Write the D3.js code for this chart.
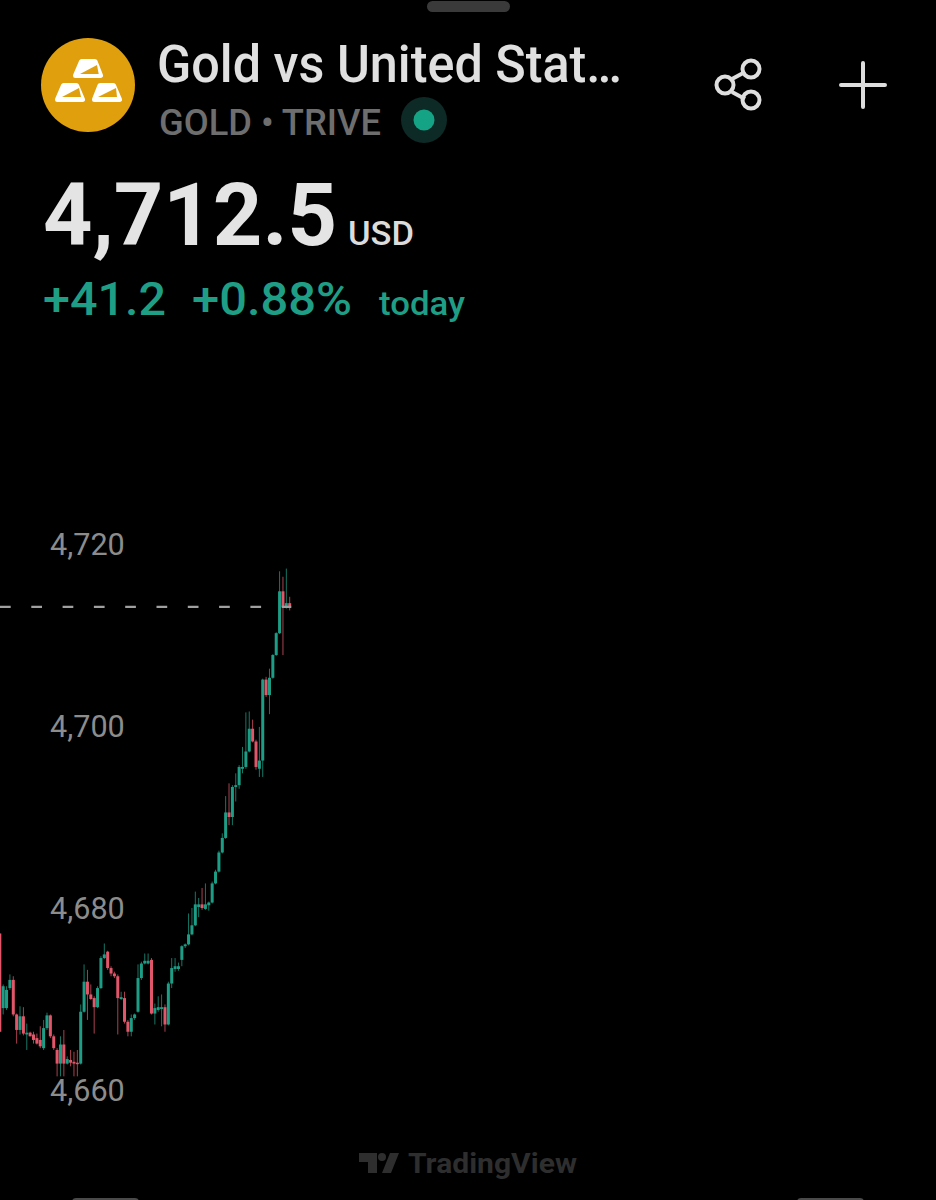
<!DOCTYPE html>
<html>
<head>
<meta charset="utf-8">
<title>Gold vs United States Dollar</title>
<script src="https://cdnjs.cloudflare.com/ajax/libs/d3/7.8.5/d3.min.js"></script>
<style>
    html, body { margin: 0; padding: 0; background: #000; }
    svg { display: block; font-family: Roboto, sans-serif; }
</style>
</head>
<body>
<div id="chart"></div>
<script>
// Chart values
// ==================================
var opens = [4677.2,4669.0,4669.0,4671.2,4672.1,4668.3,4666.6,4668.1,4666.1,4666.3,4666.1,4665.7,4665.5,4664.6,4666.8,4668.2,4665.9,4664.4,4662.9,4665.0,4662.9,4663.3,4663.1,4663.0,4662.9,4668.6,4671.9,4670.5,4670.1,4669.1,4671.2,4674.5,4675.2,4673.4,4672.8,4672.5,4670.0,4670.1,4667.5,4666.4,4667.9,4668.6,4672.3,4673.9,4673.9,4674.3,4668.4,4668.8,4668.9,4669.1,4667.2,4671.7,4673.3,4673.3,4674.3,4675.8,4676.0,4677.1,4678.1,4680.1,4680.4,4679.9,4680.3,4680.6,4682.7,4684.0,4686.1,4687.7,4690.5,4690.0,4693.3,4693.5,4695.3,4695.5,4697.2,4699.7,4698.3,4695.3,4696.2,4705.1,4703.4,4705.3,4707.8,4710.2,4714.8,4713.1,4713.5];
var highs = [4677.2,4671.6,4671.4,4672.7,4672.5,4668.4,4669.2,4669.1,4667.3,4666.4,4666.4,4666.2,4667.0,4667.7,4668.5,4668.3,4666.1,4664.6,4665.9,4666.6,4663.7,4664.4,4664.2,4664.4,4669.4,4673.8,4673.2,4671.6,4670.3,4671.4,4674.7,4676.1,4675.3,4673.6,4673.0,4672.7,4670.8,4670.8,4667.7,4668.3,4668.4,4673.8,4674.1,4675.0,4675.0,4674.5,4669.5,4670.3,4670.5,4669.4,4671.9,4674.5,4674.5,4674.0,4675.9,4676.1,4679.4,4680.0,4681.8,4681.1,4682.2,4682.7,4680.7,4682.9,4684.2,4686.3,4688.2,4692.3,4693.7,4693.5,4694.8,4695.7,4697.7,4701.5,4701.6,4700.7,4698.5,4699.9,4705.2,4705.4,4706.3,4707.9,4710.3,4717.0,4716.4,4717.3,4714.2];
var lows = [4666.4,4668.3,4668.8,4671.0,4668.1,4665.1,4666.1,4666.0,4664.4,4665.9,4665.1,4665.0,4664.6,4664.4,4666.6,4665.7,4664.4,4661.5,4661.5,4661.5,4662.8,4662.6,4661.5,4661.5,4662.8,4668.5,4667.7,4669.9,4666.2,4669.0,4671.1,4674.4,4673.2,4672.5,4672.3,4666.1,4669.9,4667.3,4665.9,4665.9,4667.7,4668.5,4672.1,4673.8,4673.8,4668.3,4667.2,4668.6,4667.0,4666.4,4667.1,4671.2,4673.0,4673.1,4673.6,4675.6,4675.9,4677.0,4678.0,4679.0,4679.8,4679.8,4679.7,4680.5,4682.6,4683.9,4686.0,4687.6,4689.1,4689.1,4691.7,4693.1,4694.8,4695.3,4697.1,4698.2,4695.2,4694.4,4694.4,4703.2,4701.3,4705.2,4707.7,4710.1,4707.8,4712.9,4712.7];
var closes = [4666.4,4671.4,4671.0,4672.1,4668.3,4666.6,4668.1,4666.2,4666.3,4665.9,4665.5,4665.1,4664.8,4666.8,4668.2,4665.9,4664.6,4662.9,4665.0,4662.9,4663.4,4663.0,4662.9,4662.9,4668.6,4671.9,4670.5,4670.0,4669.1,4671.2,4674.5,4674.9,4673.4,4672.8,4672.5,4670.1,4670.2,4667.5,4666.4,4667.9,4668.3,4672.3,4673.9,4674.2,4674.2,4668.4,4669.0,4669.1,4669.1,4667.2,4671.7,4673.4,4673.6,4673.6,4675.8,4676.0,4677.1,4678.1,4680.4,4680.4,4680.0,4680.4,4680.6,4682.7,4684.0,4686.1,4687.7,4690.5,4690.0,4693.3,4693.5,4695.5,4695.5,4697.2,4699.7,4698.3,4695.5,4696.2,4705.1,4703.4,4705.3,4707.8,4710.2,4714.8,4713.1,4713.5,4713.0];
var priceTicks = [4660, 4680, 4700, 4720];
var lastPrice = 4713.1;

// Header texts
var titleText = "Gold vs United Stat\u2026";
var symbolText = "GOLD \u2022 TRIVE";
var priceText = "4,712.5";
var currencyText = "USD";
var changeText = "+41.2";
var changePctText = "+0.88%";
var periodText = "today";
var watermarkText = "TradingView";

// Set up the chart
// ================================
var svgWidth = 936;
var svgHeight = 1200;
var upColor = "#1f9e86";
var downColor = "#e2576b";

var svg = d3.select("#chart")
    .append("svg")
    .attr("width", svgWidth)
    .attr("height", svgHeight)
    .attr("viewBox", `0 0 ${svgWidth} ${svgHeight}`);

svg.append("rect")
    .attr("width", svgWidth)
    .attr("height", svgHeight)
    .attr("fill", "#000");

// The screenshot is soft, so the marks get a small blur
var defs = svg.append("defs");
defs.append("filter")
    .attr("id", "soft")
    .attr("filterUnits", "userSpaceOnUse")
    .attr("x", 0).attr("y", 0)
    .attr("width", svgWidth).attr("height", svgHeight)
    .append("feGaussianBlur")
    .attr("stdDeviation", 0.45);

// Build rows from the value arrays
var candles = opens.map((o, i) => ({
    index: i,
    open: o,
    high: highs[i],
    low: lows[i],
    close: closes[i]
}));

// Scales
var xScale = d3.scaleLinear()
    .domain([0, candles.length - 1])
    .range([-0.2, 289.7]);

var yScale = d3.scaleLinear()
    .domain([4660, 4720])
    .range([1090, 544]);

// Price axis, labels sit on the left inside the pane
// ==================================================
var leftAxis = d3.axisRight(yScale)
    .tickValues(priceTicks)
    .tickFormat(d3.format(","))
    .tickSize(0)
    .tickPadding(0);

var axisGroup = svg.append("g")
    .attr("transform", "translate(50, 0)")
    .call(leftAxis);

axisGroup.select(".domain").remove();
axisGroup.selectAll("text")
    .attr("fill", "#8c8c8c")
    .attr("font-size", 30.6)
    .attr("font-family", "Roboto, sans-serif")
    .attr("dy", "0.35em");

// Candles
// ================================
var candleGroup = svg.append("g").attr("filter", "url(#soft)");

candleGroup.selectAll(".wick")
    .data(candles)
    .enter()
    .append("line")
    .attr("class", "wick")
    .attr("x1", d => xScale(d.index))
    .attr("x2", d => xScale(d.index))
    .attr("y1", d => yScale(d.high))
    .attr("y2", d => yScale(d.low))
    .attr("stroke", d => d.close >= d.open ? upColor : downColor)
    .attr("stroke-opacity", 0.75)
    .attr("stroke-width", 1);

candleGroup.selectAll(".body")
    .data(candles)
    .enter()
    .append("rect")
    .attr("class", "body")
    .attr("x", d => xScale(d.index) - 1.5)
    .attr("width", 3)
    .attr("y", d => yScale(Math.max(d.open, d.close)))
    .attr("height", d => Math.max(1.5, Math.abs(yScale(d.open) - yScale(d.close))))
    .attr("fill", d => d.close >= d.open ? upColor : downColor);

// Last price line, on top of the candles
candleGroup.append("line")
    .attr("x1", 0)
    .attr("x2", xScale(candles.length - 1) + 1.5)
    .attr("y1", yScale(lastPrice))
    .attr("y2", yScale(lastPrice))
    .attr("stroke", "#a0a0a0")
    .attr("stroke-width", 2.2)
    .attr("stroke-dasharray", "10.7 20.6");

// Header
// ================================

// Grab handle at the top of the sheet
svg.append("rect")
    .attr("x", 427).attr("y", 1)
    .attr("width", 83).attr("height", 11)
    .attr("rx", 5.5)
    .attr("fill", "#3a3a3a");

// Gold logo
var logo = svg.append("g");
logo.append("circle")
    .attr("cx", 88).attr("cy", 85).attr("r", 47)
    .attr("fill", "#e0a00e");

var barShapes = [
    { outer: "M81.5,61.5H95L100.5,75.5H75.5Z", inner: "M80,74L97,65L98.7,74Z" },
    { outer: "M63.5,85.5H76.5L82.5,99.5H57.5Z", inner: "M62,97L79,88L81,97Z" },
    { outer: "M100,85.5H113.5L119.5,99.5H94.5Z", inner: "M98,97L116,88L117,97Z" }
];
barShapes.forEach(b => {
    logo.append("path").attr("d", b.outer)
        .attr("fill", "#fff").attr("stroke", "#fff")
        .attr("stroke-width", 5).attr("stroke-linejoin", "round");
    logo.append("path").attr("d", b.inner).attr("fill", "#e0a00e");
});

function addText(x, y, text, size, color, weight) {
    return svg.append("text")
        .attr("x", x).attr("y", y)
        .attr("font-size", size)
        .attr("font-weight", weight || 400)
        .attr("fill", color)
        .text(text);
}

addText(157, 82, titleText, 51, "#e0e0e0", 500).attr("textLength", 465).attr("lengthAdjust", "spacingAndGlyphs");
addText(159, 135, symbolText, 36, "#6e6e6e", 500).attr("textLength", 222).attr("lengthAdjust", "spacingAndGlyphs");

svg.append("circle").attr("cx", 424).attr("cy", 120).attr("r", 23).attr("fill", "#0d2a26");
svg.append("circle").attr("cx", 424).attr("cy", 120).attr("r", 10.5).attr("fill", "#14a384");

addText(43, 245, priceText, 88, "#e4e4e4", 700).attr("textLength", 294).attr("lengthAdjust", "spacingAndGlyphs");
addText(348, 245, currencyText, 33, "#dcdcdc", 500).attr("textLength", 66).attr("lengthAdjust", "spacingAndGlyphs");
addText(43, 315, changeText, 46, upColor, 500).attr("textLength", 123).attr("lengthAdjust", "spacingAndGlyphs");
addText(192, 315, changePctText, 46, upColor, 500).attr("textLength", 160).attr("lengthAdjust", "spacingAndGlyphs");
addText(379, 315, periodText, 33, upColor, 500).attr("textLength", 86).attr("lengthAdjust", "spacingAndGlyphs");

// Share icon
var shareIcon = svg.append("g")
    .attr("fill", "none")
    .attr("stroke", "#dedede")
    .attr("stroke-width", 4);
shareIcon.append("path").attr("d", "M732,79L745,72M732,92L745,99");
[[725, 85], [751, 69], [751, 100]].forEach(p => {
    shareIcon.append("circle").attr("cx", p[0]).attr("cy", p[1]).attr("r", 8.5);
});

// Plus icon
svg.append("path")
    .attr("d", "M863,63V107M841,85H885")
    .attr("stroke", "#dedede")
    .attr("stroke-width", 4)
    .attr("stroke-linecap", "round");

// TradingView watermark
var tvColor = "#2e2e2e";
svg.append("path")
    .attr("d", "M359,1153H377V1173H368V1162H359ZM390,1153H399L391,1173H382Z")
    .attr("fill", tvColor);
svg.append("circle").attr("cx", 382).attr("cy", 1157).attr("r", 4).attr("fill", tvColor);
addText(408, 1173, watermarkText, 28, tvColor, 700).attr("textLength", 169).attr("lengthAdjust", "spacingAndGlyphs");

// Tops of the bottom bar buttons, cut off by the screen edge
[72, 797].forEach(x => {
    svg.append("rect")
        .attr("x", x).attr("y", 1198)
        .attr("width", 67).attr("height", 8)
        .attr("rx", 4)
        .attr("fill", "#4a4a4a");
});
</script>
</body>
</html>
